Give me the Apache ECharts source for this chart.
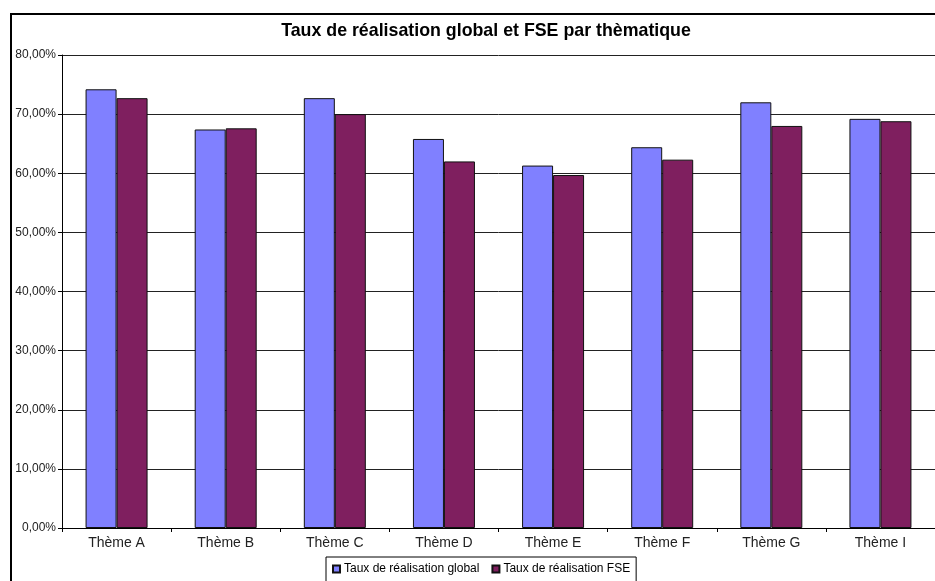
<!DOCTYPE html>
<html>
<head>
<meta charset="utf-8">
<script src="https://cdn.jsdelivr.net/npm/echarts@6/dist/echarts.min.js"></script>
<style>
  html, body { margin: 0; padding: 0; background: #fff; }
  #chart { width: 935px; height: 581px; }
</style>
</head>
<body>
<div id="chart"></div>
<script>
// Thematic categories and completion rates (%)
const categories = ['Thème A', 'Thème B', 'Thème C', 'Thème D', 'Thème E', 'Thème F', 'Thème G', 'Thème I'];
const tauxGlobal = [74.2, 67.4, 72.7, 65.8, 61.3, 64.4, 72.0, 69.2];
const tauxFSE    = [72.7, 67.6, 70.0, 62.0, 59.7, 62.3, 68.0, 68.8];
const seriesNames = ['Taux de réalisation global', 'Taux de réalisation FSE'];

const fmtPct = v => v.toFixed(2).replace('.', ',') + '%';
const FONT = '"Liberation Sans", Arial, sans-serif';

const chart = echarts.init(document.getElementById('chart'));
chart.setOption({
  backgroundColor: '#ffffff',
  animation: false,
  title: {
    text: 'Taux de réalisation global et FSE par thèmatique',
    left: 481, top: 17, textAlign: 'center',
    textStyle: { fontFamily: FONT, fontSize: 17.8, fontWeight: 'bold', color: '#000' }
  },
  legend: {
    left: 326, top: 557,
    itemWidth: 7, itemHeight: 7, itemGap: 12,
    icon: 'rect',
    borderColor: '#000', borderWidth: 1,
    padding: [6, 6, 8, 6],
    textStyle: { fontFamily: FONT, fontSize: 12, color: '#000', padding: [0, 0, 0, -1] },
    data: seriesNames
  },
  grid: { left: 62, top: 55, width: 884, height: 473, containLabel: false },
  xAxis: {
    type: 'category',
    data: categories,
    axisLine: { lineStyle: { color: '#000', width: 1 } },
    axisTick: { show: true, length: 4, inside: false, lineStyle: { color: '#000' } },
    axisLabel: { fontFamily: FONT, fontSize: 14, color: '#222', margin: 8 }
  },
  yAxis: {
    type: 'value',
    min: 0, max: 80, interval: 10,
    axisLine: { show: true, lineStyle: { color: '#000', width: 1 } },
    axisTick: { show: true, length: 4, lineStyle: { color: '#000' } },
    axisLabel: { fontFamily: FONT, fontSize: 12, color: '#222', margin: 6, formatter: fmtPct },
    splitLine: { lineStyle: { color: '#222', width: 1 } }
  },
  series: [
    {
      name: seriesNames[0], type: 'bar', data: tauxGlobal,
      barWidth: 31, barGap: '0%',
      itemStyle: { color: '#8080FF', borderColor: '#111', borderWidth: 1 }
    },
    {
      name: seriesNames[1], type: 'bar', data: tauxFSE,
      barWidth: 31,
      itemStyle: { color: '#7F1F5F', borderColor: '#111', borderWidth: 1 }
    }
  ],
  graphic: [
    {
      type: 'rect', silent: true,
      shape: { x: 11, y: 14, width: 940, height: 600 },
      style: { fill: null, stroke: '#000', lineWidth: 2 }
    }
  ]
});
</script>
</body>
</html>
